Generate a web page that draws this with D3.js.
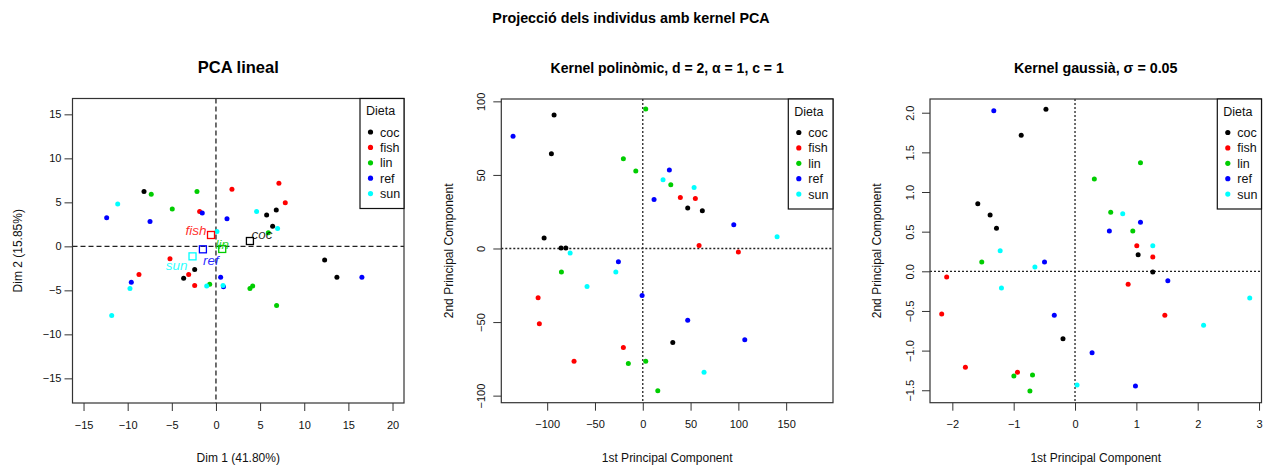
<!DOCTYPE html>
<html><head><meta charset="utf-8">
<script src="https://cdn.jsdelivr.net/npm/d3@7"></script>
<style>body{margin:0;background:#fff} svg{display:block} text{font-family:"Liberation Sans",Arial,sans-serif}</style>
</head><body><svg id="c" width="1263" height="466"></svg>
<script>
// ---------- data ----------
const diets = ["coc", "fish", "lin", "ref", "sun"];
const dietColors = ["#000000", "#FF0000", "#00CD00", "#0000FF", "#00FFFF"];

// Panel 1: linear PCA (Dim 1, Dim 2)
const pcaGroup = ["coc","coc","coc","coc","coc","coc","coc","coc",
  "fish","fish","fish","fish","fish","fish","fish","fish",
  "lin","lin","lin","lin","lin","lin","lin","lin",
  "ref","ref","ref","ref","ref","ref","ref","ref",
  "sun","sun","sun","sun","sun","sun","sun","sun"];
const pcaDim1 = [-8.15,5.74,6.83,6.42,-2.41,-3.66,12.31,13.7,
  -1.85,1.81,7.13,7.85,-5.21,-8.72,-3.09,-2.41,
  -7.33,-4.95,-2.15,5.93,-0.71,3.85,4.16,6.87,
  -12.38,-7.47,-1.55,1.25,-9.59,0.53,0.85,16.53,
  -11.13,0.11,4.6,6.98,-9.74,-11.81,-1.05,0.8];
const pcaDim2 = [6.24,3.55,4.12,2.27,-2.64,-3.63,-1.55,-3.51,
  3.97,6.5,7.18,4.95,-1.4,-3.21,-3.21,-4.46,
  5.93,4.23,6.24,1.55,-4.31,-4.8,-4.5,-6.72,
  3.25,2.83,3.78,3.14,-4.08,-3.51,-4.6,-3.51,
  4.8,1.7,3.97,2.04,-4.8,-7.86,-4.5,-4.45];

// Panel 2: polynomial kernel PCA
const polyGroup = ["coc","coc","coc","coc","coc","coc","coc","coc",
  "fish","fish","fish","fish","fish","fish","fish","fish",
  "lin","lin","lin","lin","lin","lin","lin","lin",
  "ref","ref","ref","ref","ref","ref","ref","ref",
  "sun","sun","sun","sun","sun","sun","sun"];
const polyPC1 = [-92.8,-95.6,-103.2,-85.5,-80.5,47,62.3,31.4,
  39.3,55,58.9,100,-109.5,-108.2,-20.3,-71.9,
  3.1,-20.3,-7.3,29.3,-85.1,-15.1,3.1,15.7,
  -135.7,11.8,27.8,95.2,-25.5,-0.7,47,106.7,
  21.2,53.7,140.5,-76,-28.2,-58.3,64.1];
const polyPC2 = [90.7,64.4,7.1,0.3,0.3,27.5,25.6,-63.9,
  34.7,34,2,-2.4,-33.5,-51.2,-67.3,-76.6,
  94.8,61,52.6,43.3,-15.9,-78.2,-76.6,-96.6,
  76.2,33.3,53.3,16.1,-9,-32,-48.7,-62.1,
  46.7,41.5,8,-3.1,-15.9,-25.9,-84.1];

// Panel 3: gaussian kernel PCA
const gaussGroup = pcaGroup;
const gaussPC1 = [-0.474,-0.877,-1.585,-1.384,-1.28,-0.196,1.029,1.268,
  1.007,-2.092,-2.173,-1.787,-0.938,1.268,0.866,1.464,
  1.067,0.315,0.582,0.942,-1.52,-0.997,-0.693,-0.735,
  -1.324,1.067,0.56,-0.497,-0.338,1.513,0.278,0.985,
  -1.22,0.778,1.268,-0.654,-1.199,0.033,2.848,2.096];
const gaussPC2 = [2.043,1.715,0.852,0.71,0.542,-0.85,0.21,-0.009,
  0.323,-0.072,-0.538,-1.211,-1.274,0.18,-0.164,-0.555,
  1.37,1.164,0.744,0.508,0.117,-1.32,-1.308,-1.51,
  2.025,0.618,0.508,0.117,-0.555,-0.118,-1.026,-1.446,
  0.26,0.726,0.323,0.054,-0.211,-1.434,-0.337,-0.681];

// tick values
const pcaXTicks = [-15,-10,-5,0,5,10,15,20];
const pcaYTicks = [-15,-10,-5,0,5,10,15];
const polyXTicks = [-100,-50,0,50,100,150];
const polyYTicks = [-100,-50,0,50,100];
const gaussXTicks = [-2,-1,0,1,2,3];
const gaussYTicks = [-1.5,-1.0,-0.5,0.0,0.5,1.0,1.5,2.0];

// text
const mainTitle = "Projecció dels individus amb kernel PCA";
const panelTitles = ["PCA lineal", "Kernel polinòmic, d = 2, α = 1, c = 1", "Kernel gaussià, σ = 0.05"];
const xTitles = ["Dim 1 (41.80%)", "1st Principal Component", "1st Principal Component"];
const yTitles = ["Dim 2 (15.85%)", "2nd Principal Component", "2nd Principal Component"];
const legendTitle = "Dieta";

// ---------- drawing ----------
const svg = d3.select("#c");
const color = d3.scaleOrdinal().domain(diets).range(dietColors);

svg.append("text").attr("x", 631).attr("y", 23).attr("text-anchor", "middle")
  .attr("font-size", 14.3).attr("font-weight", "bold").text(mainTitle);

const panels = [
  {left: 72.5, right: 404, top: 98.5, bottom: 403, xDom: [-16.25, 21.3], yDom: [-17.8, 16.8],
   gx: pcaDim1, gy: pcaDim2, grp: pcaGroup, xt: pcaXTicks, yt: pcaYTicks, fmt: d3.format("d"), yfmt: d3.format("d"),
   rotY: false, dash: "5,3", legLeft: 360, title: 0, tsize: 16.5, centroids: true, ytitleX: 22},
  {left: 501.3, right: 833, top: 99, bottom: 402.7, xDom: [-148, 199], yDom: [-104.8, 101.6],
   gx: polyPC1, gy: polyPC2, grp: polyGroup, xt: polyXTicks, yt: polyYTicks, fmt: d3.format("d"), yfmt: d3.format("d"),
   rotY: true, dash: "2,2", legLeft: 788.3, title: 1, tsize: 14, centroids: false, ytitleX: 453},
  {left: 930, right: 1261.5, top: 99, bottom: 402.7, xDom: [-2.364, 3.04], yDom: [-1.657, 2.173],
   gx: gaussPC1, gy: gaussPC2, grp: gaussGroup, xt: gaussXTicks, yt: gaussYTicks, fmt: d3.format("d"), yfmt: d3.format(".1f"),
   rotY: true, dash: "2,2", legLeft: 1217.3, title: 2, tsize: 14.3, centroids: false, ytitleX: 881}
];

panels.forEach((p, pi) => {
  const g = svg.append("g");
  const x = d3.scaleLinear().domain(p.xDom).range([p.left, p.right]);
  const y = d3.scaleLinear().domain(p.yDom).range([p.bottom, p.top]);

  // zero reference lines
  g.append("line").attr("x1", x(0)).attr("x2", x(0)).attr("y1", p.top).attr("y2", p.bottom)
    .attr("stroke", "#222").attr("stroke-width", 1.3).attr("stroke-dasharray", p.dash);
  g.append("line").attr("x1", p.left).attr("x2", p.right).attr("y1", y(0)).attr("y2", y(0))
    .attr("stroke", "#222").attr("stroke-width", 1.3).attr("stroke-dasharray", p.dash);

  // points
  const idx = d3.range(p.gx.length);
  g.append("g").selectAll("circle").data(idx).join("circle")
    .attr("cx", i => x(p.gx[i])).attr("cy", i => y(p.gy[i])).attr("r", 2.5)
    .attr("fill", i => color(p.grp[i]));

  // centroids (linear PCA)
  if (p.centroids) {
    const labelOffsets = {coc: [12, -6.5], fish: [-15, -5], lin: [0, -5], ref: [8, 11], sun: [-16, 9]};
    diets.forEach(d => {
      const ii = idx.filter(i => p.grp[i] === d);
      const cx = x(d3.mean(ii, i => p.gx[i])), cy = y(d3.mean(ii, i => p.gy[i]));
      g.append("rect").attr("x", cx - 3.5).attr("y", cy - 3.5).attr("width", 7).attr("height", 7)
        .attr("fill", "none").attr("stroke", color(d)).attr("stroke-width", 1.3);
      g.append("text").attr("x", cx + labelOffsets[d][0]).attr("y", cy + labelOffsets[d][1])
        .attr("dy", "0.35em").attr("text-anchor", "middle").attr("font-style", "italic")
        .attr("font-size", 13.5).attr("fill", color(d)).attr("fill-opacity", 0.85).text(d);
    });
  }

  // axes
  const xa = g.append("g").attr("transform", `translate(0,${p.bottom})`)
    .call(d3.axisBottom(x).tickValues(p.xt).tickFormat(p.fmt).tickSize(8).tickSizeOuter(0));
  xa.select(".domain").remove();
  xa.selectAll(".tick line").attr("stroke", "#333");
  xa.selectAll("text").attr("font-size", 11).attr("y", 18).attr("fill", "#111")
    .style("font-family", '"Liberation Sans",Arial,sans-serif');

  const ya = g.append("g").attr("transform", `translate(${p.left},0)`)
    .call(d3.axisLeft(y).tickValues(p.yt).tickFormat(p.yfmt).tickSize(8).tickSizeOuter(0));
  ya.select(".domain").remove();
  ya.selectAll(".tick line").attr("stroke", "#333");
  ya.selectAll("text").attr("font-size", 11).attr("fill", "#111")
    .style("font-family", '"Liberation Sans",Arial,sans-serif');
  if (p.rotY) {
    ya.selectAll("text").attr("x", 0).attr("y", 0).attr("dy", 0)
      .attr("text-anchor", "middle").attr("transform", "translate(-16,0) rotate(-90)");
  }

  // box
  g.append("rect").attr("x", p.left).attr("y", p.top).attr("width", p.right - p.left)
    .attr("height", p.bottom - p.top).attr("fill", "none").attr("stroke", "#333").attr("stroke-width", 1.2);

  // titles
  const cxm = (p.left + p.right) / 2;
  g.append("text").attr("x", cxm).attr("y", 73).attr("text-anchor", "middle")
    .attr("font-weight", "bold").attr("font-size", p.tsize).text(panelTitles[p.title]);
  g.append("text").attr("x", cxm).attr("y", 462).attr("text-anchor", "middle")
    .attr("font-size", 12).attr("fill", "#111").text(xTitles[pi]);
  g.append("text").attr("transform", `translate(${p.ytitleX},${(p.top + p.bottom) / 2}) rotate(-90)`)
    .attr("text-anchor", "middle").attr("font-size", 12).attr("fill", "#111").text(yTitles[pi]);

  // legend
  const lg = g.append("g");
  lg.append("rect").attr("x", p.legLeft).attr("y", p.top).attr("width", p.right - p.legLeft)
    .attr("height", 110).attr("fill", "#fff").attr("stroke", "#111").attr("stroke-width", 1.2);
  lg.append("text").attr("x", p.legLeft + 6).attr("y", p.top + 16.5)
    .attr("font-size", 12.5).attr("fill", "#111").text(legendTitle);
  diets.forEach((d, k) => {
    const yy = p.top + 33.5 + k * 15.4;
    lg.append("circle").attr("cx", p.legLeft + 10.5).attr("cy", yy).attr("r", 2.6).attr("fill", color(d));
    lg.append("text").attr("x", p.legLeft + 20).attr("y", yy).attr("dy", "0.36em")
      .attr("font-size", 12.5).attr("fill", "#111").text(d);
  });
});
</script></body></html>
